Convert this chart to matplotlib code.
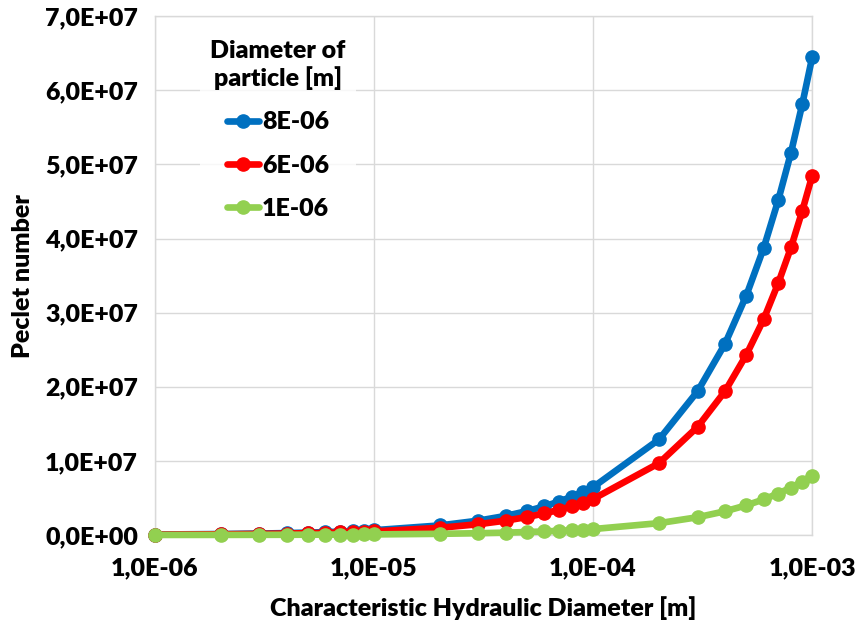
import math
import matplotlib
matplotlib.use("Agg")
import matplotlib.pyplot as plt
from matplotlib.ticker import FuncFormatter, FixedLocator

plt.rcParams["font.family"] = ["Lato", "DejaVu Sans"]
plt.rcParams["font.weight"] = "heavy"
plt.rcParams["axes.labelweight"] = "heavy"

# Characteristic hydraulic diameter [m]
diametro = [1e-6, 2e-6, 3e-6, 4e-6, 5e-6, 6e-6, 7e-6, 8e-6, 9e-6,
            1e-5, 2e-5, 3e-5, 4e-5, 5e-5, 6e-5, 7e-5, 8e-5, 9e-5,
            1e-4, 2e-4, 3e-4, 4e-4, 5e-4, 6e-4, 7e-4, 8e-4, 9e-4,
            1e-3]

# Peclet number (milhoes) para cada diametro de particula
pe_8e6 = [0.0645, 0.129, 0.194, 0.258, 0.323, 0.387, 0.452, 0.516, 0.581,
          0.645, 1.29, 1.94, 2.58, 3.23, 3.87, 4.52, 5.16, 5.81,
          6.45, 12.9, 19.4, 25.8, 32.3, 38.7, 45.2, 51.6, 58.1,
          64.5]
pe_6e6 = [0.0485, 0.097, 0.146, 0.194, 0.243, 0.291, 0.340, 0.388, 0.437,
          0.485, 0.97, 1.46, 1.94, 2.43, 2.91, 3.40, 3.88, 4.37,
          4.85, 9.7, 14.6, 19.4, 24.3, 29.1, 34.0, 38.8, 43.7,
          48.5]
pe_1e6 = [0.008, 0.016, 0.024, 0.032, 0.040, 0.048, 0.056, 0.064, 0.072,
          0.080, 0.16, 0.24, 0.32, 0.40, 0.48, 0.56, 0.64, 0.72,
          0.80, 1.6, 2.4, 3.2, 4.0, 4.8, 5.6, 6.4, 7.2,
          8.0]

series = [("8E-06", pe_8e6, "#0070C0"),
          ("6E-06", pe_6e6, "#FF0000"),
          ("1E-06", pe_1e6, "#92D050")]

fig = plt.figure(figsize=(8.55, 6.25), dpi=100)
ax = fig.add_axes([0.181, 0.144, 0.769, 0.830])

for nome, valores, cor in series:
    ax.plot(diametro, [v * 1e6 for v in valores], color=cor, linewidth=4.8,
            marker="o", markersize=9.5, label=nome, solid_capstyle="round",
            solid_joinstyle="round", clip_on=False, zorder=3)

ax.set_xscale("log")
ax.set_xlim(1e-6, 1e-3)
ax.set_ylim(0, 7e7)
ax.xaxis.set_major_locator(FixedLocator([1e-6, 1e-5, 1e-4, 1e-3]))
ax.xaxis.set_minor_locator(FixedLocator([]))
ax.set_yticks([i * 1e7 for i in range(8)])


def fmt_x(v, pos):
    exp = int(round(math.log10(v)))
    return f"1,0E-{abs(exp):02d}"


def fmt_y(v, pos):
    return f"{int(round(v / 1e7))},0E+{'07' if v > 0 else '00'}"


ax.xaxis.set_major_formatter(FuncFormatter(fmt_x))
ax.yaxis.set_major_formatter(FuncFormatter(fmt_y))
ax.tick_params(axis="both", length=0, labelsize=18)
ax.tick_params(axis="y", pad=12)
ax.tick_params(axis="x", pad=16)

ax.grid(True, color="#d9d9d9", linewidth=1)
ax.set_axisbelow(True)
for s in ax.spines.values():
    s.set_color("#d9d9d9")
    s.set_linewidth(1)

ax.set_xlabel("Characteristic Hydraulic Diameter [m]", fontsize=18, labelpad=12)
ax.set_ylabel("Peclet number", fontsize=18, labelpad=8)

leg = ax.legend(title="Diameter of\nparticle [m]", loc="upper left",
                bbox_to_anchor=(0.05, 0.997), frameon=True, fontsize=18,
                title_fontproperties={"weight": "heavy", "size": 18},
                handlelength=1.3, handletextpad=0.1, labelspacing=0.85)
leg.get_frame().set_facecolor("white")
leg.get_frame().set_edgecolor("none")
leg.get_title().set_multialignment("center")

fig.savefig("out.png", dpi=100)
